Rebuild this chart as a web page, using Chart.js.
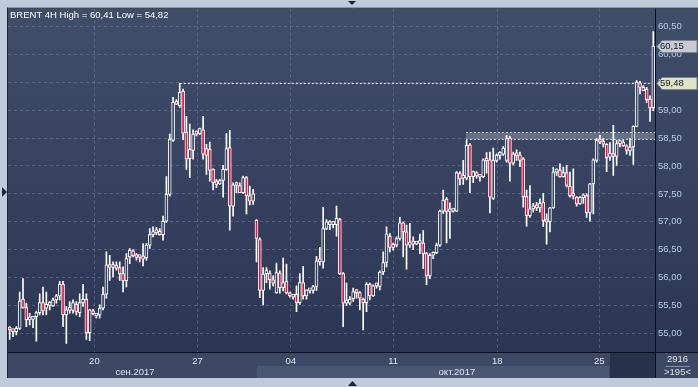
<!DOCTYPE html>
<html>
<head>
<meta charset="utf-8">
<script src="https://cdn.jsdelivr.net/npm/chart.js@4.4.0/dist/chart.umd.min.js"></script>
<style>
  html, body { margin: 0; padding: 0; background: #bfcbdb; overflow: hidden; }
  canvas { display: block; }
</style>
</head>
<body>
<canvas id="grafico" width="698" height="387"></canvas>
<script>
// BRENT 4H candles
const opens = [
  55.11,55.05,55.03,55.09,55.61,55.46,55.24,55.25,55.30,55.37,
  55.55,55.45,55.50,55.49,55.60,55.67,55.88,55.33,55.41,55.41,
  55.52,55.37,55.55,55.61,55.01,55.38,55.31,55.33,55.45,55.70,
  56.23,56.18,56.20,56.18,56.07,55.94,56.37,56.48,56.39,56.37,
  56.37,56.35,56.58,56.77,56.80,56.83,56.77,57.01,57.49,58.46,
  59.15,59.08,59.34,58.61,58.13,58.28,58.60,58.58,58.65,58.31,
  58.30,57.94,57.70,57.68,57.74,57.94,58.33,57.28,57.66,57.65,
  57.52,57.79,57.47,57.37,57.03,56.68,55.77,56.07,56.08,55.96,
  55.73,56.08,55.82,55.93,55.72,55.67,55.70,55.55,55.91,55.67,
  55.76,55.77,55.84,56.30,56.28,56.88,56.98,56.95,56.95,57.04,
  56.07,55.54,55.54,55.62,55.75,55.73,55.61,55.55,55.88,55.67,
  55.85,55.84,56.10,56.27,56.74,56.54,56.58,56.70,56.98,56.82,
  56.58,56.64,56.60,56.61,56.62,56.43,56.03,56.40,56.44,56.58,
  57.19,57.40,57.18,57.19,57.19,57.87,57.78,57.78,58.38,57.81,
  57.88,57.82,57.81,58.13,58.11,57.42,58.10,58.19,58.21,58.10,
  58.50,58.05,58.22,58.20,58.13,57.45,57.11,57.23,57.26,57.25,
  57.35,57.02,57.00,57.25,57.89,57.92,57.81,57.88,57.64,57.48,
  57.44,57.32,57.43,57.47,57.16,57.68,58.10,58.47,58.41,58.39,
  58.16,58.22,58.17,58.40,58.43,58.36,58.27,58.34,58.71,59.49,
  59.41,59.38,59.20,59.04
];
const highs = [
  55.12,55.07,55.12,55.74,55.98,55.54,55.36,55.30,55.40,55.71,
  55.83,55.74,55.57,55.63,55.70,55.93,55.93,55.48,55.57,55.60,
  55.57,55.71,55.88,55.71,55.43,55.43,55.36,55.51,55.83,56.46,
  56.40,56.28,56.28,56.28,56.19,56.43,56.52,56.50,56.43,56.40,
  56.61,56.61,56.88,56.91,56.90,56.88,57.10,57.81,58.57,59.23,
  59.19,59.48,59.38,58.89,58.75,58.65,58.63,58.68,58.89,58.39,
  58.43,57.95,57.76,57.76,58.01,58.58,58.64,57.70,57.71,57.70,
  57.82,57.81,57.64,57.58,57.04,56.71,56.18,56.18,56.12,56.03,
  56.26,56.12,56.35,56.24,55.74,55.69,55.85,56.07,56.20,55.78,
  55.80,55.86,56.38,56.54,57.26,57.04,57.02,57.01,57.28,57.06,
  56.09,55.90,55.66,55.81,55.78,55.75,55.63,55.91,55.90,55.87,
  55.90,56.12,56.46,56.91,56.79,56.62,56.73,57.08,57.00,56.94,
  56.97,56.73,56.64,56.78,56.84,56.45,56.43,56.46,56.62,57.21,
  57.57,57.44,57.34,57.21,57.90,57.90,58.10,58.46,58.40,57.91,
  57.90,57.85,58.13,58.24,58.25,58.32,58.22,58.26,58.35,58.55,
  58.53,58.25,58.29,58.25,58.15,57.57,57.65,57.33,57.35,57.41,
  57.51,57.14,57.26,57.98,57.95,58.04,57.98,58.01,57.89,57.95,
  57.45,57.45,57.50,57.50,57.69,58.13,58.49,58.55,58.49,58.40,
  58.42,58.73,58.46,58.46,58.46,58.38,58.49,58.72,59.53,59.52,
  59.44,59.41,59.26,60.41
];
const lows = [
  54.89,54.94,54.97,55.07,55.45,55.12,55.15,55.10,54.86,55.33,
  55.33,55.33,55.42,55.48,55.54,55.60,55.12,54.82,55.36,55.36,
  55.33,55.30,55.48,54.89,54.87,55.33,55.27,55.27,55.42,55.63,
  55.95,56.01,56.13,55.95,55.74,55.83,56.25,56.37,56.31,56.28,
  56.21,56.31,56.52,56.73,56.77,56.76,56.67,56.99,57.46,58.44,
  59.10,59.05,58.47,57.94,57.79,58.12,58.54,58.56,58.12,57.85,
  57.73,57.57,57.61,57.67,57.44,57.92,56.85,57.10,57.52,57.52,
  57.51,57.14,57.30,57.31,56.28,55.64,55.51,55.91,55.79,55.85,
  55.72,55.72,55.76,55.70,55.65,55.61,55.39,55.52,55.61,55.61,
  55.72,55.72,55.77,56.22,56.17,56.86,56.86,56.89,56.74,56.05,
  55.12,55.50,55.51,55.57,55.63,55.42,55.06,55.39,55.60,55.66,
  55.81,55.78,56.05,56.19,56.46,56.49,56.55,56.67,56.37,56.15,
  56.54,56.50,56.59,56.43,56.16,55.87,55.98,56.34,56.43,56.56,
  57.15,56.62,56.70,57.17,57.18,57.66,57.67,57.75,57.52,57.70,
  57.78,57.73,57.79,57.87,57.16,57.40,58.07,58.12,58.19,58.07,
  57.73,58.02,58.10,57.99,57.26,56.92,57.08,57.17,57.20,57.17,
  56.91,56.60,56.82,57.24,57.83,57.80,57.80,57.62,57.44,57.41,
  57.28,57.31,57.33,57.08,57.01,57.14,58.07,58.40,58.34,57.90,
  58.10,57.83,58.01,58.34,58.35,58.21,58.19,58.03,58.70,59.29,
  59.35,59.14,58.80,58.99
];
const closes = [
  55.06,55.03,55.09,55.58,55.46,55.24,55.25,55.30,55.37,55.55,
  55.40,55.52,55.52,55.60,55.67,55.88,55.33,55.42,55.45,55.55,
  55.39,55.55,55.61,55.01,55.42,55.35,55.33,55.45,55.70,56.23,
  56.18,56.20,56.17,56.07,55.94,56.34,56.49,56.39,56.36,56.36,
  56.33,56.58,56.77,56.82,56.83,56.77,57.01,57.49,58.48,59.14,
  59.11,59.32,58.59,58.12,58.30,58.57,58.57,58.67,58.21,58.19,
  57.92,57.70,57.67,57.74,57.94,58.31,57.28,57.66,57.65,57.52,
  57.79,57.47,57.37,57.50,56.70,55.77,56.06,56.09,55.96,55.90,
  56.09,55.82,55.91,55.73,55.67,55.65,55.55,55.91,55.67,55.78,
  55.78,55.84,56.30,56.28,56.88,57.00,56.95,56.98,57.06,56.07,
  55.54,55.55,55.61,55.75,55.73,55.63,55.55,55.88,55.67,55.85,
  55.87,56.10,56.27,56.78,56.54,56.58,56.70,56.98,56.82,56.58,
  56.62,56.60,56.62,56.62,56.43,56.03,56.40,56.44,56.58,57.19,
  57.39,57.18,57.20,57.20,57.88,57.77,57.82,58.37,57.81,57.90,
  57.82,57.80,58.11,58.09,57.44,58.10,58.19,58.22,58.32,58.49,
  58.05,58.22,58.18,58.10,57.45,57.11,57.23,57.26,57.25,57.33,
  57.02,57.00,57.25,57.89,57.92,57.81,57.88,57.65,57.47,57.46,
  57.32,57.44,57.45,57.16,57.68,58.11,58.46,58.43,58.39,58.15,
  58.23,58.17,58.40,58.43,58.36,58.28,58.34,58.71,59.50,59.41,
  59.35,59.19,59.04,60.15
];

// axis labels (x values are candle indices)
const dateTickPos = [25.4, 56.3, 84.3, 115.0, 146.2, 176.8];
const dateTickText = ['20', '27', '04', '11', '18', '25'];
const priceTicks = [55, 55.5, 56, 56.5, 57, 57.5, 58, 58.5, 59, 59.5, 60, 60.5];
const monthText = ['сен.2017', 'окт.2017'];
const monthPos = [37.6, 134.1];
const octoberSpan = [74.1, 179.7];

// drawn levels
const resistance = 59.48;
const resistanceFrom = 51;
const zone = [58.49, 58.61];
const zoneFrom = 136.8;
const lastPrice = 60.15;

const barCount = '2916';
const visibleCount = '>195<';

const FONT = '"Liberation Sans", Arial, sans-serif';
const fmt = v => v.toFixed(2).replace('.', ',');
const title = `BRENT 4H High = ${fmt(Math.max(...highs))} Low = ${fmt(Math.min(...lows))}`;

const ctx = document.getElementById('grafico').getContext('2d');

let grad = null;
function panelGradient(chart) {
  if (!grad) {
    grad = chart.ctx.createLinearGradient(0, 8, 0, 352);
    grad.addColorStop(0, '#414e6a');
    grad.addColorStop(1, '#2b3655');
  }
  return grad;
}

const wicks = closes.map((_, i) => ({ x: i, y: [lows[i], highs[i]] }));
const bodies = closes.map((c, i) => ({ x: i, y: [Math.min(opens[i], c), Math.max(opens[i], c)] }));

function triangle(c, pts) {
  c.beginPath();
  c.moveTo(pts[0], pts[1]);
  c.lineTo(pts[2], pts[3]);
  c.lineTo(pts[4], pts[5]);
  c.closePath();
  c.fill();
}

function tag(chart, value, text, bg) {
  const c = chart.ctx;
  const y = Math.round(chart.scales.y.getPixelForValue(value)) + 0.5;
  const l = chart.chartArea.right + 2;
  c.save();
  c.beginPath();
  c.moveTo(l, y);
  c.lineTo(l + 5, y - 6);
  c.lineTo(chart.width - 1, y - 6);
  c.lineTo(chart.width - 1, y + 6);
  c.lineTo(l + 5, y + 6);
  c.closePath();
  c.fillStyle = bg;
  c.fill();
  c.strokeStyle = '#7b8596';
  c.lineWidth = 1;
  c.stroke();
  c.fillStyle = '#141820';
  c.font = `9.5px ${FONT}`;
  c.textBaseline = 'middle';
  c.fillText(text, l + 3, y);
  c.restore();
}

const frame = {
  id: 'frame',
  beforeDraw(chart) {
    const c = chart.ctx;
    const a = chart.chartArea;
    const x = chart.scales.x;
    const W = chart.width;
    c.save();
    c.fillStyle = '#bfcbdb';
    c.fillRect(0, 0, W, chart.height);
    c.fillStyle = panelGradient(chart);
    c.fillRect(a.left, a.top, W - a.left, a.bottom - a.top);
    // bottom strip
    c.fillStyle = '#3c4864';
    c.fillRect(a.left, a.bottom, W - a.left, x.bottom - a.bottom);
    const o1 = x.getPixelForValue(octoberSpan[0]);
    const o2 = x.getPixelForValue(octoberSpan[1]);
    c.fillStyle = '#4a5773';
    c.fillRect(o1, a.bottom + 14, o2 - o1, x.bottom - a.bottom - 14);
    c.fillStyle = '#28324c';
    c.fillRect(o2 + 1, a.bottom + 1, a.right - o2 - 1, x.bottom - a.bottom - 1);
    // separators
    c.strokeStyle = '#0b0f18';
    c.lineWidth = 1;
    c.beginPath();
    c.moveTo(a.right + 0.5, a.top);
    c.lineTo(a.right + 0.5, x.bottom);
    c.moveTo(a.left, a.bottom + 0.5);
    c.lineTo(W, a.bottom + 0.5);
    c.stroke();
    c.strokeStyle = '#1b2230';
    c.beginPath();
    c.moveTo(a.left - 0.5, a.top - 1);
    c.lineTo(a.left - 0.5, x.bottom);
    c.moveTo(a.left - 1, a.top - 0.5);
    c.lineTo(W, a.top - 0.5);
    c.stroke();
    // arrows in the outer frame
    c.fillStyle = '#1d2535';
    triangle(c, [348, 1, 356, 1, 352, 5]);
    triangle(c, [348, 386, 357, 386, 352.5, 381]);
    triangle(c, [2, 187, 2, 197, 7, 192]);
    c.restore();
  },
  beforeDatasetsDraw(chart) {
    const c = chart.ctx;
    const a = chart.chartArea;
    const x = chart.scales.x, y = chart.scales.y;
    c.save();
    // grey zone
    const z0 = x.getPixelForValue(zoneFrom);
    const zt = Math.round(y.getPixelForValue(zone[1])) + 0.5;
    const zb = Math.round(y.getPixelForValue(zone[0])) + 0.5;
    c.fillStyle = 'rgba(170,176,188,0.4)';
    c.fillRect(z0, zt, a.right - z0, zb - zt);
    c.strokeStyle = 'rgba(225,228,234,0.85)';
    c.setLineDash([2, 2]);
    c.beginPath();
    c.moveTo(z0, zt); c.lineTo(a.right, zt);
    c.moveTo(z0, zb); c.lineTo(a.right, zb);
    c.stroke();
    // resistance line
    const ry = Math.round(y.getPixelForValue(resistance)) + 0.5;
    c.strokeStyle = '#ffffff';
    c.beginPath();
    c.moveTo(x.getPixelForValue(resistanceFrom), ry);
    c.lineTo(a.right, ry);
    c.stroke();
    c.restore();
  },
  afterDraw(chart) {
    const c = chart.ctx;
    const a = chart.chartArea;
    const x = chart.scales.x;
    c.save();
    c.font = `9.5px ${FONT}`;
    c.textBaseline = 'middle';
    c.fillStyle = '#ffffff';
    c.fillText(title, 10, 15);
    // month names
    c.textAlign = 'center';
    c.fillStyle = '#dfe5f0';
    monthText.forEach((t, i) => c.fillText(t, x.getPixelForValue(monthPos[i]), a.bottom + 20));
    // bar counter box
    const cx = (a.right + chart.width) / 2 + 1;
    c.fillText(barCount, cx, a.bottom + 7);
    c.fillText(visibleCount, cx, a.bottom + 20.5);
    c.strokeStyle = '#8391aa';
    c.beginPath();
    c.moveTo(cx - 12, a.bottom + 14.5);
    c.lineTo(cx + 12, a.bottom + 14.5);
    c.stroke();
    c.restore();
    tag(chart, lastPrice, fmt(lastPrice), '#c6cad3');
    tag(chart, resistance, fmt(resistance), '#dfe2c7');
  }
};

const gridOpts = { color: 'rgba(128,142,172,0.45)', drawTicks: false, lineWidth: 1 };

new Chart(ctx, {
  type: 'bar',
  data: {
    datasets: [
      {
        data: wicks,
        backgroundColor: '#ffffff',
        barThickness: 1,
        grouped: false,
        order: 2
      },
      {
        data: bodies,
        backgroundColor: c => closes[c.dataIndex] < opens[c.dataIndex] ? '#e3133d' : panelGradient(c.chart),
        borderColor: '#ffffff',
        borderWidth: 1,
        borderSkipped: false,
        barThickness: 3,
        minBarLength: 3,
        grouped: false,
        order: 1
      }
    ]
  },
  options: {
    responsive: false,
    animation: false,
    devicePixelRatio: 1,
    layout: { padding: { left: 8, top: 8, right: 0, bottom: 9 } },
    plugins: { legend: { display: false }, tooltip: { enabled: false } },
    scales: {
      x: {
        type: 'linear',
        offset: false,
        bounds: 'data',
        grace: 0,
        min: -0.5,
        max: closes.length - 0.5,
        afterBuildTicks: s => { s.ticks = dateTickPos.map(v => ({ value: v })); },
        afterFit: s => { s.height = 26; },
        ticks: {
          autoSkip: false,
          maxRotation: 0,
          padding: 4,
          color: '#dfe5f0',
          font: { family: FONT, size: 9.5 },
          callback: (v, i) => dateTickText[i]
        },
        grid: { ...gridOpts, offset: false },
        border: { display: false, dash: [3, 3] }
      },
      y: {
        position: 'right',
        min: 54.665,
        max: 60.82,
        afterBuildTicks: s => { s.ticks = priceTicks.map(v => ({ value: v })); },
        afterFit: s => { s.width = 43; },
        ticks: {
          padding: 3,
          color: '#b6ccee',
          font: { family: FONT, size: 9.5 },
          callback: v => fmt(v)
        },
        grid: gridOpts,
        border: { display: false, dash: [3, 3] }
      }
    }
  },
  plugins: [frame]
});
</script>
</body>
</html>
